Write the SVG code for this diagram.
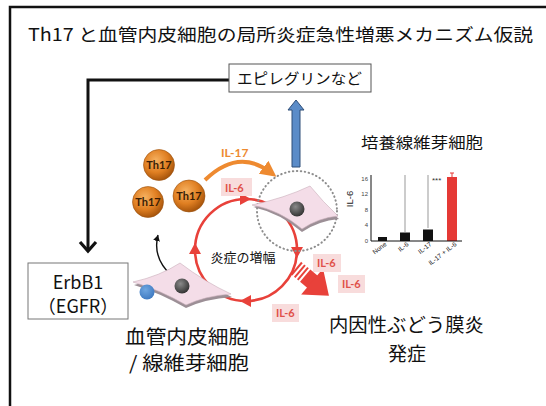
<svg xmlns="http://www.w3.org/2000/svg" width="546" height="406" viewBox="0 0 546 406">
  <style>
    .jp { font-family: "Noto Sans CJK JP", "Noto Sans", sans-serif; fill: #111; }
    .il { font-family: Lato, "Liberation Sans", sans-serif; font-weight: bold; font-size: 11px; fill: #e0504a; }
    .ilbg { fill: #f8dcdc; }
    .th { font-family: Lato, "Liberation Sans", sans-serif; font-weight: bold; font-size: 11px; fill: #3a1e05; text-anchor: middle; }
    .tick { font-family: "Liberation Sans", sans-serif; font-size: 6px; fill: #444; }
    .xl { font-family: "Liberation Sans", sans-serif; font-size: 6.5px; fill: #222; text-anchor: end; }
    .cell { fill: #f4dde8; stroke: #c9aebb; stroke-width: 0.6; }
    .cellshade { fill: #9c8f96; }
  </style>
  <defs>
    <radialGradient id="orange" cx="0.4" cy="0.35" r="0.65">
      <stop offset="0" stop-color="#f6b160"/>
      <stop offset="0.6" stop-color="#e07f22"/>
      <stop offset="1" stop-color="#a9560c"/>
    </radialGradient>
    <radialGradient id="nucleus" cx="0.4" cy="0.35" r="0.7">
      <stop offset="0" stop-color="#8a8a8a"/>
      <stop offset="1" stop-color="#2e2e2e"/>
    </radialGradient>
    <radialGradient id="blueball" cx="0.4" cy="0.35" r="0.7">
      <stop offset="0" stop-color="#6fa6e0"/>
      <stop offset="1" stop-color="#3d78c0"/>
    </radialGradient>
    <path id="redhead" d="M0,0 L-11,-6 L-11,6 Z" fill="#e8413a"/>
    <marker id="orangehead" markerWidth="4" markerHeight="4" refX="2" refY="2" orient="auto" markerUnits="strokeWidth">
      <path d="M0,0 L4,2 L0,4 Z" fill="#ee8a30"/>
    </marker>
    <marker id="thinhead" markerWidth="8" markerHeight="8" refX="6" refY="4" orient="auto" markerUnits="userSpaceOnUse">
      <path d="M0,0.5 L6,4 L0,7.5 Z" fill="#111"/>
    </marker>
  </defs>

  <rect width="546" height="406" fill="#fff"/>
  <!-- outer frame -->
  <rect x="10" y="7" width="560" height="430" fill="none" stroke="#111" stroke-width="2.5"/>

  <!-- title -->
  <text class="jp" x="28" y="41" font-size="17.5" textLength="505" lengthAdjust="spacingAndGlyphs">Th17 と血管内皮細胞の局所炎症急性増悪メカニズム仮説</text>

  <g id="connectors">
    <!-- feedback line from epiregulin to ErbB1 -->
    <polyline points="229,80 88,80 88,250" fill="none" stroke="#111" stroke-width="3"/>
    <polyline points="80,242 88,251 96,242" fill="none" stroke="#111" stroke-width="3.2"/>
    <!-- blue up arrow -->
    <path d="M292,167 L292,110 L288,110 L296,100 L304,110 L300,110 L300,167 Z" fill="#5b8cc8" stroke="#2e4e78" stroke-width="1"/>
    <!-- IL-17 orange arc -->
    <path d="M205,180 Q238,148 270,172" fill="none" stroke="#ee8a30" stroke-width="4" marker-end="url(#orangehead)"/>
    <!-- thin arrow from cell to Th17 -->
    <path d="M172,276 Q152,258 158,235" fill="none" stroke="#111" stroke-width="1.4" marker-end="url(#thinhead)"/>
    <!-- amplification loop -->
    <circle cx="246" cy="250" r="51" fill="none" stroke="#e8413a" stroke-width="2.6"/>
    <use href="#redhead" transform="translate(251,199)"/>
    <use href="#redhead" transform="translate(297,258) rotate(90)"/>
    <use href="#redhead" transform="translate(240,301) rotate(180)"/>
    <use href="#redhead" transform="translate(195,243) rotate(-90)"/>
    <!-- large red output arrow -->
    <g transform="translate(296,268) rotate(40)" fill="#e8413a">
      <rect x="0" y="-8" width="2" height="16"/>
      <rect x="4" y="-8" width="2" height="16"/>
      <rect x="8" y="-8" width="2" height="16"/>
      <rect x="12" y="-8" width="10" height="16"/>
      <path d="M21,-17 L43,0 L21,17 Z"/>
    </g>
  </g>

  <g id="text-loop">
    <text class="jp" x="243" y="262" font-size="13" text-anchor="middle">炎症の増幅</text>
  </g>

  <!-- activated zone around upper cell -->
  <circle cx="297" cy="211" r="40" fill="none" stroke="#8d8d8d" stroke-width="2" stroke-dasharray="0.5 3.5" stroke-linecap="round"/>

  <g id="cell-upper">
    <path class="cellshade" d="M253,207 Q285,201 310,189 Q323,205 339,219 Q318,221 302,232 Q280,213 253,207 Z"/>
    <path class="cell" d="M252,205 Q285,198 310,186 Q323,202 338,216 Q318,218 302,229 Q280,210 252,205 Z"/>
    <circle cx="297" cy="209" r="7.5" fill="url(#nucleus)"/>
  </g>

  <g id="cell-lower">
    <path class="cellshade" d="M134,285 Q160,279 180,266 Q205,285 232,297 Q205,299 186,308 Q160,293 134,285 Z"/>
    <path class="cell" d="M133,282 Q160,276 180,263 Q205,282 231,294 Q205,296 186,305 Q160,290 133,282 Z"/>
    <circle cx="182" cy="286" r="7.5" fill="url(#nucleus)"/>
    <circle cx="147" cy="292" r="7.5" fill="url(#blueball)"/>
  </g>

  <g id="th17-cells">
    <g><circle cx="159" cy="165" r="15.5" fill="url(#orange)" stroke="#9a5210" stroke-width="0.6"/><text class="th" x="159" y="169">Th17</text></g>
    <g><circle cx="148" cy="202" r="15.5" fill="url(#orange)" stroke="#9a5210" stroke-width="0.6"/><text class="th" x="148" y="206">Th17</text></g>
    <g><circle cx="189" cy="196" r="16" fill="url(#orange)" stroke="#9a5210" stroke-width="0.6"/><text class="th" x="189" y="200">Th17</text></g>
  </g>

  <g id="cytokine-labels">
    <text x="221" y="157" font-family="Lato, 'Liberation Sans', sans-serif" font-weight="bold" font-size="12" fill="#ee8a30">IL-17</text>
    <rect class="ilbg" x="221" y="178" width="31" height="18"/>
    <text class="il" x="225" y="192">IL-6</text>
    <rect class="ilbg" x="313" y="254" width="28" height="18"/>
    <text class="il" x="317" y="267">IL-6</text>
    <rect class="ilbg" x="338" y="275" width="27" height="18"/>
    <text class="il" x="342" y="288">IL-6</text>
    <rect class="ilbg" x="272" y="304" width="27" height="18"/>
    <text class="il" x="276" y="317">IL-6</text>
  </g>

  <g id="epiregulin">
    <rect x="229" y="64" width="142" height="28" fill="#fff" stroke="#555" stroke-width="1"/>
    <text class="jp" x="237" y="84" font-size="15" textLength="125" lengthAdjust="spacingAndGlyphs">エピレグリンなど</text>
  </g>

  <g id="erbb1">
    <rect x="28" y="263" width="100" height="56" fill="#fff" stroke="#777" stroke-width="1"/>
    <text class="jp" x="78" y="289" font-size="18" text-anchor="middle">ErbB1</text>
    <text class="jp" x="78" y="313" font-size="18" text-anchor="middle">（EGFR）</text>
  </g>

  <g id="cell-caption">
    <text class="jp" x="125" y="344" font-size="19" textLength="124" lengthAdjust="spacingAndGlyphs">血管内皮細胞</text>
    <text class="jp" x="129" y="370" font-size="19" textLength="120" lengthAdjust="spacingAndGlyphs">/ 線維芽細胞</text>
  </g>

  <g id="uveitis">
    <text class="jp" x="329" y="332" font-size="19" textLength="155" lengthAdjust="spacingAndGlyphs">内因性ぶどう膜炎</text>
    <text class="jp" x="407" y="361" font-size="19" text-anchor="middle">発症</text>
  </g>

  <g id="chart">
    <text class="jp" x="361" y="148" font-size="15" textLength="122" lengthAdjust="spacingAndGlyphs">培養線維芽細胞</text>
    <text font-family="'Liberation Sans', sans-serif" font-size="9.5" fill="#222" text-anchor="middle" transform="translate(353,199) rotate(-90)">IL-6</text>
    <!-- guide lines -->
    <line x1="405" y1="175" x2="405" y2="232" stroke="#999" stroke-width="1"/>
    <line x1="428" y1="175" x2="428" y2="228" stroke="#999" stroke-width="1"/>
    <text x="432" y="183" font-family="'Liberation Sans', sans-serif" font-size="8" fill="#333">***</text>
    <!-- bars -->
    <rect x="378" y="237" width="9" height="4" fill="#111"/>
    <rect x="400" y="232.5" width="10" height="8.5" fill="#111"/>
    <rect x="423" y="229.5" width="10" height="11.5" fill="#111"/>
    <rect x="447" y="177" width="10" height="64" fill="#e53935"/>
    <line x1="452" y1="173" x2="452" y2="177" stroke="#e53935" stroke-width="1"/>
    <line x1="450" y1="173" x2="454" y2="173" stroke="#e53935" stroke-width="1"/>
    <!-- axes -->
    <polyline points="371,175 371,241 462,241" fill="none" stroke="#111" stroke-width="1"/>
    <text class="tick" x="368" y="181" text-anchor="end">16</text>
    <text class="tick" x="368" y="196" text-anchor="end">12</text>
    <text class="tick" x="368" y="212" text-anchor="end">8</text>
    <text class="tick" x="368" y="227" text-anchor="end">4</text>
    <text class="tick" x="368" y="243" text-anchor="end">0</text>
    <text class="xl" transform="translate(387,245) rotate(-38)">None</text>
    <text class="xl" transform="translate(409,245) rotate(-38)">IL-6</text>
    <text class="xl" transform="translate(432,245) rotate(-38)">IL-17</text>
    <text class="xl" transform="translate(457,245) rotate(-38)">IL-17 + IL-6</text>
  </g>
</svg>
